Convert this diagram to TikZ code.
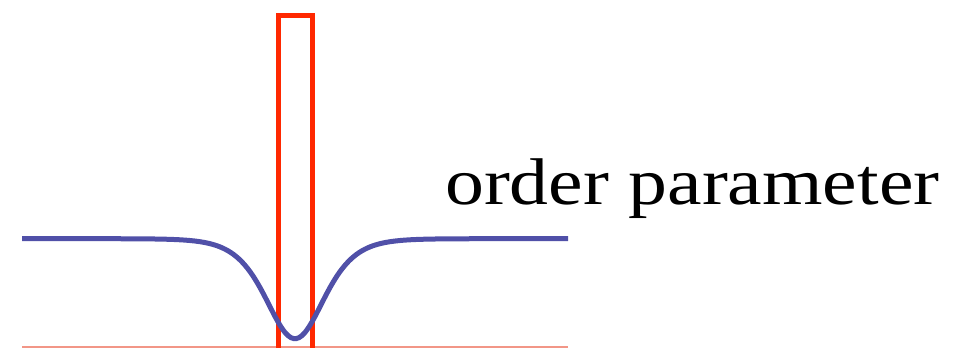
\documentclass[tikz,border=0pt]{standalone}
\usepackage{fontspec}
\newfontfamily\labelfont[FakeStretch=1.178]{Liberation Serif}
\definecolor{curveblue}{RGB}{80,80,168}
\definecolor{boxred}{RGB}{255,40,0}
\definecolor{baseline}{RGB}{242,150,135}
\begin{document}
\begin{tikzpicture}[x=1pt,y=1pt,
  curve/.style={draw=curveblue,line width=5pt},
  barrier/.style={draw=boxred,line width=5pt},
  axisline/.style={draw=baseline,line width=1.5pt},
  label/.style={inner sep=0pt,anchor=base west,font=\labelfont\fontsize{66}{80}\selectfont}]
\useasboundingbox (0,0) rectangle (954,348);
\begin{scope}
\clip (0,0) rectangle (954,348);
\coordinate (a0) at (22,1);
\coordinate (a1) at (568,1);
\draw[axisline] (a0) -- (a1);
\coordinate (r0) at (278.2,-5);
\coordinate (r1) at (278.2,332.3);
\coordinate (r2) at (312.3,332.3);
\coordinate (r3) at (312.3,-5);
\draw[barrier,line join=miter] (r0) -- (r1) -- (r2) -- (r3);
\draw[curve,smooth] plot[domain=22:568,samples=200] (\x,{9.3+100*(tanh((\x-295)/39))^2});
\end{scope}
\node[label] (t) at (445,143) {order parameter};
\end{tikzpicture}
\end{document}
